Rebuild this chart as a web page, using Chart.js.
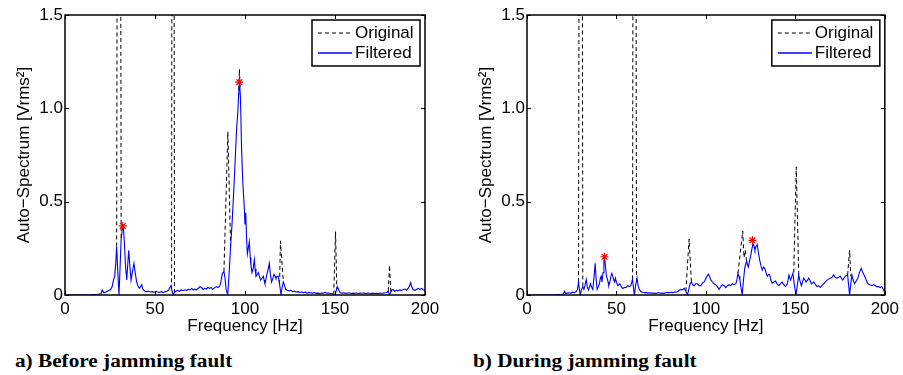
<!DOCTYPE html>
<html>
<head>
<meta charset="utf-8">
<script src="https://cdn.jsdelivr.net/npm/chart.js@4.4.1/dist/chart.umd.min.js"></script>
<style>
  body { margin: 0; background: #fff; }
  #wrap { position: relative; width: 903px; height: 375px; overflow: hidden; }
  canvas { position: absolute; top: 0; }
  .cap { position: absolute; top: 352px; font: bold 18px "Liberation Serif", "Times New Roman", serif; line-height: 18px; transform: scaleX(1.18); transform-origin: left; white-space: nowrap; color: #000; }
</style>
</head>
<body>
<div id="wrap">
  <canvas id="chartA" width="450" height="340" style="left:0px"></canvas>
  <canvas id="chartB" width="441" height="340" style="left:462px"></canvas>
  <div class="cap" style="left:15px">a) Before jamming fault</div>
  <div class="cap" style="left:473px">b) During jamming fault</div>
</div>
<script>
// ---- a) before jamming fault ----
const freqA = [0,5,10,14,15,17,19,20,20.7,21.5,22.5,23.5,24.5,25.3,26.2,26.9,27.6,28.2,28.7,29.2,30,30.6,31.2,31.8,32.4,33,33.6,34.3,34.9,35.4,36,36.7,37.4,38.3,39,39.8,40.5,41.3,42,42.6,43.3,44.4,45.5,46.5,47.5,48.5,49.5,50.5,51.5,52.5,53.5,54.5,55.5,56.5,57.5,58.3,58.9,59.5,60.2,60.8,61.5,62.5,63.5,64.5,65.5,66.5,67.5,68.5,69.5,70.4,71.2,72,73,74,75,75.9,76.8,77.6,78.5,79.4,80.3,81.2,82,83,84,85,86,86.8,87.4,88.3,88.9,89.5,90.4,91.2,92,92.8,93.5,94.2,94.8,95.4,96,96.5,97,97.5,98.1,98.8,99.6,100,100.4,100.9,101.3,101.8,102.4,102.9,103.3,103.9,104.5,105.2,105.6,106.1,106.8,107.4,108,108.7,109.4,110.2,110.6,111.1,111.7,112.4,112.9,113.5,114.1,114.8,115.5,116.1,116.7,117.2,117.9,118.5,119.2,120,120.6,121.3,122,122.6,123.5,124.5,125.5,126.5,127.5,128.5,129.5,130.5,131.5,132.5,133.5,134.5,135.5,136.5,137.5,138.5,139.5,140.5,141.5,142.5,143.5,144.5,145.5,146.5,147.5,148.5,149.3,150,150.6,151.3,152,152.8,154,155,156,157,158,159,160,161,162,163,164,165,166,167,168,169,170,171,172,173,174,175,176,177,178,179,179.6,180.3,181,181.7,182.4,183.2,184,185,186,187,188,188.9,189.8,190.6,191.4,192,192.6,193.5,194.4,195.3,196.2,197.2,198.1,199,200];
const filteredA = [0,0,0,0,0.003,0.003,0.005,0.008,0.027,0.012,0.015,0.02,0.025,0.028,0.045,0.08,0.1,0.17,0.26,0.15,0,0.15,0.3,0.35,0.366,0.28,0.16,0.08,0.17,0.24,0.16,0.08,0.12,0.17,0.12,0.07,0.05,0.036,0.045,0.055,0.03,0.02,0.018,0.02,0.016,0.018,0.014,0.02,0.016,0.014,0.018,0.013,0.017,0.02,0.025,0.04,0.05,0.02,0,0.015,0.02,0.025,0.02,0.027,0.023,0.028,0.024,0.03,0.028,0.035,0.027,0.032,0.028,0.035,0.045,0.04,0.03,0.036,0.032,0.04,0.035,0.04,0.03,0.038,0.045,0.04,0.048,0.08,0.116,0.125,0.09,0.03,0,0.12,0.26,0.38,0.51,0.65,0.78,0.9,0.98,1.08,1.14,1.05,0.78,0.6,0.47,0.38,0.44,0.3,0.22,0.25,0.285,0.2,0.16,0.12,0.14,0.19,0.14,0.1,0.11,0.12,0.1,0.08,0.09,0.1,0.08,0.06,0.09,0.12,0.14,0.17,0.11,0.07,0.09,0.11,0.1,0.09,0.1,0.1,0.06,0,0.04,0.07,0.05,0.03,0.025,0.022,0.025,0.018,0.02,0.016,0.018,0.014,0.016,0.012,0.015,0.01,0.014,0.012,0.01,0.013,0.009,0.01,0.008,0.011,0.01,0.014,0.01,0.011,0.008,0.006,0.002,0,0.02,0.045,0.03,0.012,0.01,0.012,0.009,0.01,0.012,0.008,0.01,0.009,0.011,0.008,0.01,0.009,0.01,0.008,0.01,0.009,0.008,0.01,0.008,0.009,0.008,0.01,0.009,0.01,0.012,0.015,0.02,0,0.015,0.03,0.028,0.02,0.025,0.022,0.027,0.024,0.03,0.032,0.026,0.035,0.05,0.066,0.045,0.028,0.025,0.03,0.035,0.03,0.035,0.028,0.025];
// original spectrum, only where it differs from the filtered one (null = gap)
const origFreqA = [28.7,30,31.2,null,59.2,60,60.8,null,88.3,90.5,92,null,96.4,96.9,97.3,null,119.2,119.7,121.3,null,149.3,150.3,151,null,179.6,180.3,181];
const originalA = [0.26,8,0.3,null,0.03,8,0.015,null,0.125,0.875,0.26,null,1.06,1.21,1.1,null,0.06,0.29,0.07,null,0.002,0.34,0.03,null,0.02,0.16,0.015];
const peakFreqA = [32.1, 96.8];
const peakA = [0.37, 1.14];

// ---- b) during jamming fault ----
const freqB = [0,10,15,17,19,20.3,21,21.6,22.5,23.5,24.5,25.5,26.5,27.5,28.2,28.8,29.7,30.5,31.2,31.8,32.4,33.1,33.8,34.4,35,35.5,36.2,36.8,37.5,38.1,38.6,39.2,39.9,40.5,41,41.4,41.9,42.5,43,43.4,43.9,44.4,44.8,45.3,45.7,46.3,46.9,47.4,48,48.5,49,49.4,50,50.7,51.3,52,52.7,53.5,54.4,55.4,56.3,57.2,58,59,59.5,60,60.7,61.5,62.1,62.8,63.5,64.5,65.5,66.5,67.5,68.5,69.5,70.5,71.5,72.5,73.5,74.5,75.5,76.5,77.5,78.5,79.5,80.5,81.5,82.5,83.5,84.5,85.1,86,87,87.9,88.8,89.7,90.4,91.2,91.9,92.6,93.4,94.3,95.3,96.2,97.2,98.1,99,99.8,100.6,101.4,102,102.8,103.6,104.5,105.5,106.4,107.4,108.3,109.2,110.2,111.1,112,112.9,113.8,114.8,115.7,116.7,117.3,117.9,118.5,119,119.6,120.3,121,121.7,122.3,122.8,123.3,123.7,124.3,125,125.6,126.3,126.9,127.4,128,128.7,129.3,130,130.7,131.5,132.2,133,133.6,134.3,135,135.6,136.3,137,138,138.9,139.8,140.8,141.7,142.6,143.5,144.5,145.5,146.4,147.3,148,148.6,149.5,150.4,151.2,151.9,152.7,153.4,154,154.7,155.4,156,156.8,157.5,158.3,159,159.7,160.3,161.2,162.1,163,164,164.9,165.8,166.7,167.7,168.6,169.6,170.5,171.4,172.3,173.3,174.2,175.1,175.8,176.4,177.2,177.9,178.6,179.2,179.8,180.3,181,181.6,182.3,183.1,184,184.9,185.8,186.8,187.7,188.7,189.6,190.5,191.6,192.8,193.7,194.7,195.6,196.5,197.4,198.3,199.2,200];
const filteredB = [0,0,0,0.002,0.003,0.005,0.02,0.008,0.01,0.012,0.01,0.015,0.012,0.018,0.03,0.07,0,0.03,0.045,0.03,0.05,0.084,0.04,0.027,0.045,0.06,0.04,0.03,0.1,0.17,0.09,0.03,0.045,0.06,0.09,0.1,0.07,0.12,0.18,0.2,0.15,0.1,0.09,0.07,0.05,0.07,0.1,0.116,0.1,0.08,0.07,0.09,0.07,0.05,0.055,0.06,0.045,0.035,0.04,0.04,0.05,0.045,0.05,0.084,0.04,0,0.05,0.09,0.05,0.03,0.02,0.015,0.012,0.014,0.01,0.012,0.01,0.011,0.009,0.01,0.012,0.01,0.011,0.009,0.012,0.014,0.012,0.015,0.013,0.016,0.015,0.02,0.027,0.03,0.028,0.036,0.02,0,0.03,0.06,0.07,0.055,0.05,0.06,0.06,0.05,0.05,0.065,0.07,0.085,0.1,0.112,0.1,0.08,0.07,0.06,0.055,0.045,0.03,0.045,0.055,0.05,0.04,0.05,0.055,0.05,0.06,0.055,0.06,0.08,0.116,0.1,0.08,0.04,0,0.08,0.143,0.17,0.18,0.16,0.15,0.18,0.21,0.24,0.277,0.26,0.24,0.26,0.27,0.23,0.19,0.16,0.134,0.15,0.14,0.12,0.1,0.11,0.11,0.08,0.063,0.07,0.075,0.06,0.05,0.06,0.07,0.055,0.045,0.06,0.107,0.08,0.1,0.116,0.05,0,0.06,0.107,0.07,0.05,0.07,0.09,0.08,0.07,0.08,0.09,0.075,0.06,0.065,0.07,0.055,0.045,0.05,0.04,0.05,0.06,0.07,0.08,0.085,0.09,0.095,0.107,0.095,0.09,0.095,0.1,0.09,0.08,0.09,0.1,0.105,0.107,0.05,0,0.06,0.107,0.08,0.06,0.075,0.09,0.12,0.143,0.12,0.1,0.08,0.06,0.055,0.05,0.055,0.05,0.045,0.045,0.04,0.045,0.03,0.01];
const origFreqB = [28.8,30,31.2,null,59,60,61.2,null,88.8,90.6,91.9,null,117.9,120.6,121.3,122,122.8,null,149.1,150.5,151.9,null,179.2,180.3,181];
const originalB = [0.07,8,0.045,null,0.084,8,0.07,null,0.02,0.3,0.07,null,0.116,0.343,0.2,0.24,0.18,null,0.12,0.687,0.107,null,0.107,0.24,0.1];
const peakFreqB = [43.3, 126.0];
const peakB = [0.205, 0.293];

const xTicks = [0, 50, 100, 150, 200];
const yTicks = [0, 0.5, 1, 1.5];
const legendOrder = ['Original', 'Filtered'];

Chart.defaults.font.family = "'Liberation Sans', Arial, Helvetica, sans-serif";
Chart.defaults.font.size = 17;
Chart.defaults.color = '#000';

const toPoints = (xs, ys) => xs.map((x, i) => ({ x: x, y: ys[i] }));

// MATLAB style box: frame, inward ticks on all sides, boxed legend top right
const matlabBox = {
  id: 'matlabBox',
  afterDatasetsDraw(chart) {
    const { ctx, chartArea: a, scales } = chart;
    ctx.save();
    ctx.strokeStyle = '#000';
    ctx.lineWidth = 1;
    ctx.beginPath();
    xTicks.forEach(v => {
      const px = Math.round(scales.x.getPixelForValue(v)) + 0.5;
      ctx.moveTo(px, a.bottom); ctx.lineTo(px, a.bottom - 4);
      ctx.moveTo(px, a.top); ctx.lineTo(px, a.top + 4);
    });
    yTicks.forEach(v => {
      const py = Math.round(scales.y.getPixelForValue(v)) + 0.5;
      ctx.moveTo(a.left, py); ctx.lineTo(a.left + 4, py);
      ctx.moveTo(a.right, py); ctx.lineTo(a.right - 4, py);
    });
    ctx.stroke();
    ctx.lineWidth = 1.5;
    ctx.strokeRect(a.left, a.top, a.right - a.left, a.bottom - a.top);

    // legend
    const w = 108, h = 46;
    const bx = a.right - 5 - w, by = a.top + 5;
    ctx.fillStyle = '#fff';
    ctx.fillRect(bx, by, w, h);
    ctx.lineWidth = 1.5;
    ctx.strokeRect(bx, by, w, h);
    legendOrder.forEach((name, i) => {
      const d = chart.data.datasets.find(ds => ds.label === name);
      const ly = by + 13 + i * 20;
      ctx.beginPath();
      ctx.strokeStyle = d.borderColor;
      ctx.lineWidth = d.legendWidth;
      ctx.setLineDash(d.borderDash || []);
      ctx.moveTo(bx + 6, ly); ctx.lineTo(bx + 40, ly);
      ctx.stroke();
      ctx.setLineDash([]);
      ctx.fillStyle = '#000';
      ctx.font = "17px 'Liberation Sans', Arial, sans-serif";
      ctx.textAlign = 'left';
      ctx.textBaseline = 'middle';
      ctx.fillText(d.label, bx + 43, ly);
    });
    ctx.restore();
  }
};

function makeChart(id, rightPad, freq, filtered, origFreq, original, peakFreq, peak) {
  return new Chart(document.getElementById(id), {
    type: 'line',
    data: {
      datasets: [
        {
          label: 'peaks',
          data: toPoints(peakFreq, peak),
          showLine: false,
          pointStyle: 'star',
          pointRadius: 4,
          pointBorderColor: '#ff0000',
          pointBorderWidth: 1.2,
          pointBackgroundColor: '#ff0000',
          order: 0
        },
        {
          label: 'Filtered',
          data: toPoints(freq, filtered),
          borderColor: '#0000ff',
          borderWidth: 1.1,
          legendWidth: 1.6,
          pointRadius: 0,
          tension: 0,
          order: 1
        },
        {
          label: 'Original',
          data: toPoints(origFreq, original),
          borderColor: '#000000',
          borderWidth: 1,
          legendWidth: 1,
          borderDash: [4, 3],
          pointRadius: 0,
          tension: 0,
          spanGaps: false,
          order: 2
        }
      ]
    },
    options: {
      responsive: false,
      animation: false,
      devicePixelRatio: 1,
      layout: { padding: { left: 0, right: rightPad, top: 15, bottom: 3 } },
      plugins: { legend: { display: false }, tooltip: { enabled: false } },
      scales: {
        x: {
          type: 'linear',
          min: 0,
          max: 200,
          afterBuildTicks: s => { s.ticks = xTicks.map(v => ({ value: v })); },
          afterFit: s => { s.height = 42; },
          grid: { display: false, drawTicks: false },
          border: { display: false },
          ticks: { padding: 4, maxRotation: 0 },
          title: { display: true, text: 'Frequency [Hz]', padding: { top: 0, bottom: 0 } }
        },
        y: {
          min: 0,
          max: 1.5,
          afterBuildTicks: s => { s.ticks = yTicks.map(v => ({ value: v })); },
          afterFit: s => { s.width = 65; },
          grid: { display: false, drawTicks: false },
          border: { display: false },
          ticks: { padding: 2 },
          title: { display: true, text: 'Auto\u2212Spectrum [Vrms\u00b2]', padding: { top: 14, bottom: 0 } }
        }
      }
    },
    plugins: [matlabBox]
  });
}

makeChart('chartA', 25, freqA, filteredA, origFreqA, originalA, peakFreqA, peakA);
makeChart('chartB', 17, freqB, filteredB, origFreqB, originalB, peakFreqB, peakB);
</script>
</body>
</html>
